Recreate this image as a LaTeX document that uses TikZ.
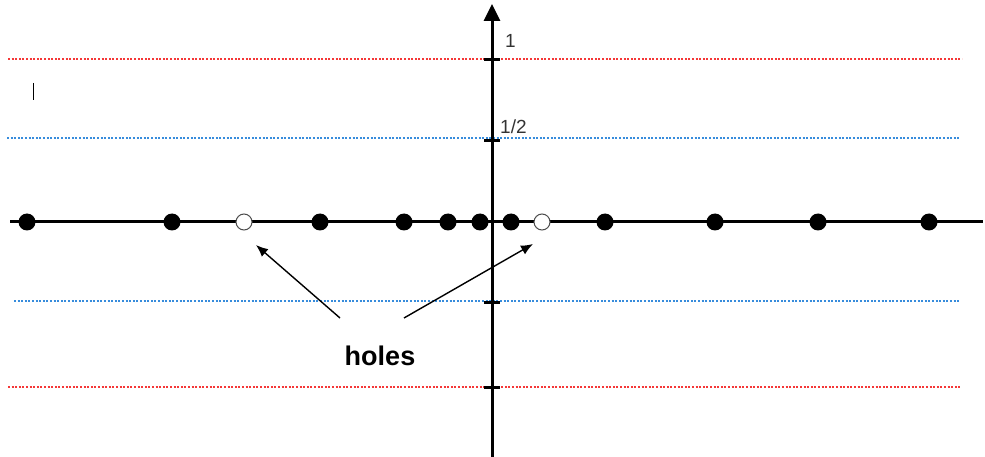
\documentclass[tikz,border=0pt]{standalone}
\usepackage{fontspec}
\setmainfont{Liberation Sans}
\usetikzlibrary{arrows.meta}
\definecolor{redline}{RGB}{245,55,55}
\definecolor{blueline}{RGB}{55,140,220}
\tikzset{
  axisline/.style={line width=3pt},
  guide/.style={line width=1.2pt, dash pattern=on 2pt off 1.6pt},
  tickmark/.style={line width=3pt},
  fulldot/.style={circle, fill=black, minimum width=17pt, minimum height=16pt, inner sep=0pt},
  holedot/.style={circle, draw=black!70, line width=1pt, fill=white, minimum width=16pt, minimum height=15pt, inner sep=0pt},
  pointer/.style={line width=1.4pt, -{Latex[length=12pt,width=10pt]}},
  ticklabel/.style={font=\fontsize{19}{19}\selectfont, text=black!80, inner sep=0pt}
}
\begin{document}
\begin{tikzpicture}[x=1pt,y=-1pt]
\useasboundingbox (0,0) rectangle (985,457);
% guide lines
\draw[guide, redline] (8,59) -- (962,59);
\draw[guide, blueline] (7,138) -- (960,138);
\draw[guide, blueline] (14,301) -- (960,301);
\draw[guide, redline] (8,387) -- (960,387);
% axes
\coordinate (xl) at (10,222);
\coordinate (xr) at (985,222);
\coordinate (yb) at (492,457);
\coordinate (yt) at (492,4);
\draw[axisline] (xl) -- (983,222);
\draw[axisline, -{Triangle[length=17pt,width=16pt]}] (yb) -- (yt);
% ticks
\foreach \yy in {60,141,302,387}
  \draw[tickmark] (484,\yy) -- (500,\yy);
% labels
\node[ticklabel, anchor=west] (one) at (505,41) {1};
\node[ticklabel, anchor=west] (half) at (500,127) {1/2};
% cursor mark
\draw[line width=1pt] (33,83) -- (33,100);
% dots
\foreach \xx/\nm in {27/a,172/b,320/c,404/d,448/e,480/f,511/g,605/h,715/i,818/j,929/k}
  \node[fulldot] (\nm) at (\xx,222) {};
\node[holedot] (h1) at (244,222) {};
\node[holedot] (h2) at (542,222) {};
% holes label and arrows
\node[font=\bfseries\fontsize{27}{27}\selectfont, inner sep=0pt] (holes) at (380,356) {holes};
\coordinate (s1) at (340,318);
\coordinate (s2) at (404,318);
\draw[pointer] (s1) -- (256,245);
\draw[pointer] (s2) -- (533,244);
\end{tikzpicture}
\end{document}
